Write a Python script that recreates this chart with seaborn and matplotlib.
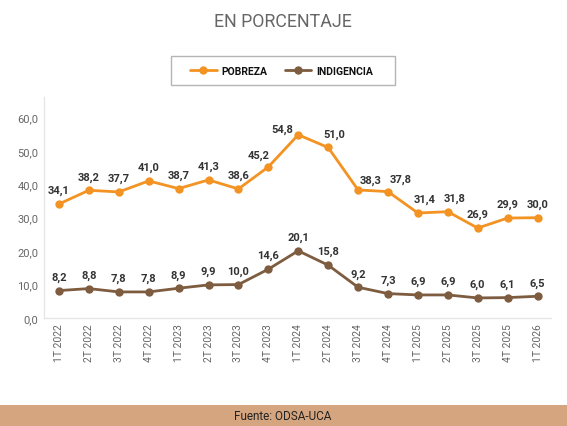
import pandas as pd
import matplotlib.pyplot as plt
import matplotlib.patches as mpatches
import seaborn as sns

# datos
trimestres = ["1T 2022", "2T 2022", "3T 2022", "4T 2022", "1T 2023", "2T 2023",
              "3T 2023", "4T 2023", "1T 2024", "2T 2024", "3T 2024", "4T 2024",
              "1T 2025", "2T 2025", "3T 2025", "4T 2025", "1T 2026"]
pobreza = [34.1, 38.2, 37.7, 41.0, 38.7, 41.3, 38.6, 45.2, 54.8, 51.0,
           38.3, 37.8, 31.4, 31.8, 26.9, 29.9, 30.0]
indigencia = [8.2, 8.8, 7.8, 7.8, 8.9, 9.9, 10.0, 14.6, 20.1, 15.8,
              9.2, 7.3, 6.9, 6.9, 6.0, 6.1, 6.5]
yticks = [0, 10, 20, 30, 40, 50, 60]

colores = {"POBREZA": "#F39323", "INDIGENCIA": "#7D5C3F"}

df = pd.DataFrame({"idx": range(len(trimestres)), "POBREZA": pobreza, "INDIGENCIA": indigencia})
df_long = df.melt(id_vars="idx", var_name="serie", value_name="valor")

sns.set_style("white")
plt.rcParams["font.family"] = ["Roboto", "DejaVu Sans"]

fig = plt.figure(figsize=(5.67, 4.27), dpi=100)
ax = fig.add_axes([44 / 567, 1 - 319 / 427, (551 - 44) / 567, (319 - 98) / 427])

sns.lineplot(data=df_long, x="idx", y="valor", hue="serie", palette=colores,
             marker="o", markersize=6, markeredgewidth=0, linewidth=2, ax=ax)

# etiquetas de datos (desplazamientos en puntos para evitar la linea)
desplaz = {("POBREZA", 7): (-7, -1.5), ("POBREZA", 8): (-11.5, -5.5),
           ("POBREZA", 9): (4.5, 0), ("POBREZA", 10): (9, -2.5),
           ("POBREZA", 11): (9, -1), ("POBREZA", 12): (4.5, 0),
           ("POBREZA", 13): (5, 0)}
for serie, vals in [("POBREZA", pobreza), ("INDIGENCIA", indigencia)]:
    for i, v in enumerate(vals):
        dx, dy = desplaz.get((serie, i), (0, 0))
        ax.annotate(f"{v:.1f}".replace(".", ","), (i, v), xytext=(dx, 10 + dy),
                    textcoords="offset points", ha="center", va="center",
                    fontsize=8, fontweight="bold", color="#333333")

ax.set_xlim(-0.5, 16.45)
ax.set_ylim(0, 66.1)
ax.set_yticks(yticks)
ax.set_yticklabels([f"{t:.1f}".replace(".", ",") for t in yticks], fontsize=8, color="#666666")
ax.set_xticks(range(len(trimestres)))
ax.set_xticklabels(trimestres, rotation=90, fontsize=7.5, color="#666666")
ax.tick_params(axis="both", length=0, pad=4)
ax.set_xlabel("")
ax.set_ylabel("")
for s in ["top", "right"]:
    ax.spines[s].set_visible(False)
for s in ["left", "bottom"]:
    ax.spines[s].set_color("#e6e6e6")
    ax.spines[s].set_linewidth(1)

ax.get_legend().remove()
handles = [plt.Line2D([], [], color=colores[k], marker="o", markersize=5, linewidth=2) for k in colores]
leg = fig.legend(handles, list(colores), loc="center", bbox_to_anchor=(282 / 567, 1 - 72 / 427),
                 ncol=2, frameon=False, handlelength=2.5, handletextpad=0.5, columnspacing=1.7,
                 prop={"weight": "bold", "size": 7.5})
for t in leg.get_texts():
    t.set_color("#111111")
fig.patches.append(mpatches.Rectangle((171 / 567, 1 - 86 / 427), 224 / 567, 29 / 427,
                                      transform=fig.transFigure, facecolor="none",
                                      edgecolor="#b5b5b5", linewidth=1))

fig.text(283 / 567, 1 - 22 / 427, "EN PORCENTAJE", ha="center", va="center",
         fontsize=12.8, color="#666666")

# franja inferior
fig.patches.append(mpatches.Rectangle((0, 0), 1, 21 / 427, transform=fig.transFigure,
                                      facecolor="#D4A57E", edgecolor="none", zorder=0))
fig.text(283 / 567, 10 / 427, "Fuente: ODSA-UCA", ha="center", va="center",
         fontsize=8.5, color="#222222")

fig.savefig("out.png", dpi=100, facecolor="white")
